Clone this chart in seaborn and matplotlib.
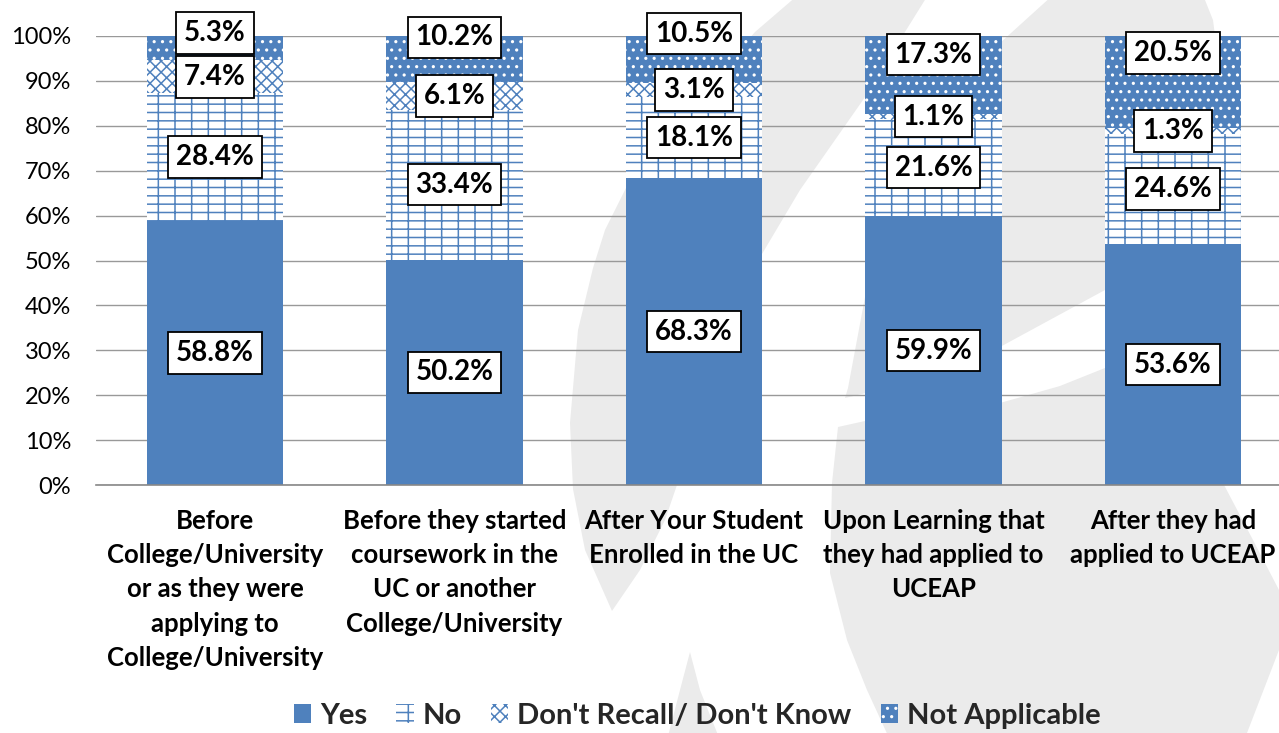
import seaborn as sns
import matplotlib.pyplot as plt
import pandas as pd
import numpy as np
from matplotlib.patches import Polygon, Patch

# chart data (percent of respondents)
categories = [
    'Before\nCollege/University\nor as they were\napplying to\nCollege/University',
    'Before they started\ncoursework in the\nUC or another\nCollege/University',
    'After Your Student\nEnrolled in the UC',
    'Upon Learning that\nthey had applied to\nUCEAP',
    'After they had\napplied to UCEAP',
]
yes = [58.8, 50.2, 68.3, 59.9, 53.6]
no = [28.4, 33.4, 18.1, 21.6, 24.6]
dont_recall = [7.4, 6.1, 3.1, 1.1, 1.3]
not_applicable = [5.3, 10.2, 10.5, 17.3, 20.5]
series_names = ['Yes', 'No', "Don't Recall/ Don't Know", 'Not Applicable']
y_ticks = [0, 10, 20, 30, 40, 50, 60, 70, 80, 90, 100]

# styling
BLUE = '#4F81BD'
WM_GRAY = '#EBEBEB'
series_style = [
    dict(face=BLUE, edge=BLUE, hatch=None),
    dict(face='white', edge=BLUE, hatch='--|'),
    dict(face='white', edge=BLUE, hatch='xxx'),
    dict(face=BLUE, edge='white', hatch='..'),
]
# Excel moved the top labels up a bit so they do not collide
top_label_nudge = [3.4, 4.9, 5.8, 4.6, 6.5]

sns.set_theme(style='white')
plt.rcParams['font.family'] = ['Lato', 'DejaVu Sans']
plt.rcParams['hatch.linewidth'] = 1.1

df = pd.DataFrame({'Timing': categories, 'Yes': yes, 'No': no,
                   "Don't Recall/ Don't Know": dont_recall,
                   'Not Applicable': not_applicable})

fig = plt.figure(figsize=(12.79, 7.33), dpi=100)
fig.patch.set_facecolor('white')

# faint logo watermark behind the chart (pixel coordinates)
wm = fig.add_axes([0, 0, 1, 1], zorder=0)
wm.set_xlim(0, 1279)
wm.set_ylim(733, 0)
wm.axis('off')
watermark_shapes = [
    [(798, -5), (755, 32), (700, 95), (650, 155), (626, 188), (605, 230), (593, 268),
     (578, 330), (570, 423), (573, 489), (585, 550), (612, 611), (640, 570), (665, 520),
     (677, 485), (700, 420), (740, 300), (762, 254), (800, 190), (870, 90), (900, 40),
     (928, -5)],
    [(1053, -5), (1000, 43), (950, 110), (905, 200), (875, 260), (865, 297), (848, 388),
     (845, 398), (900, 385), (1000, 347), (1105, 290), (1160, 245), (1205, 170),
     (1222, 90), (1213, 20), (1203, -5)],
    [(838, 427), (865, 421), (930, 412), (1000, 403), (1060, 386), (1105, 368),
     (1160, 385), (1200, 425), (1223, 483), (1253, 540), (1279, 590), (1292, 620),
     (1279, 650), (1247, 733), (1247, 740), (890, 740), (867, 690), (847, 640),
     (830, 573), (832, 483)],
    [(690, 652), (680, 690), (667, 740), (720, 740), (700, 690)],
]
for shape in watermark_shapes:
    wm.add_patch(Polygon(shape, closed=True, facecolor=WM_GRAY, edgecolor='none'))

ax = fig.add_axes([96 / 1279, 1 - 485 / 733, 1 - 96 / 1279, (485 - 36) / 733], zorder=1)
ax.patch.set_visible(False)

bottom = np.zeros(len(categories))
for name, st in zip(series_names, series_style):
    sns.barplot(data=df, x='Timing', y=name, order=categories, bottom=bottom,
                color=st['face'], saturation=1, width=0.57, errorbar=None, ax=ax)
    for bar in ax.containers[-1]:
        bar.set_facecolor(st['face'])
        bar.set_edgecolor(st['edge'])
        bar.set_linewidth(0)
        if st['hatch']:
            bar.set_hatch(st['hatch'])
    bottom = bottom + df[name].to_numpy()

# value labels in white boxes
bottom = np.zeros(len(categories))
for k, name in enumerate(series_names):
    vals = df[name].to_numpy()
    for i, v in enumerate(vals):
        y = bottom[i] + v / 2
        if k == len(series_names) - 1:
            y += top_label_nudge[i]
        ax.text(i, y, f'{v:.1f}%', ha='center', va='center', fontsize=20,
                fontweight='bold', color='black', zorder=5,
                bbox=dict(boxstyle='square,pad=0.28', facecolor='white',
                          edgecolor='black', linewidth=1.3))
    bottom = bottom + vals

ax.set_ylim(0, 100)
ax.set_xlim(-0.497, 4.443)
ax.set_yticks(y_ticks)
ax.set_yticklabels([f'{t}%' for t in y_ticks])
ax.yaxis.grid(True, color='#999999', linewidth=1.0)
ax.set_axisbelow(True)
ax.set_xlabel('')
ax.set_ylabel('')
for side in ['left', 'right', 'top']:
    ax.spines[side].set_visible(False)
ax.spines['bottom'].set_color('#888888')
ax.spines['bottom'].set_linewidth(1.2)
ax.tick_params(axis='y', length=0, pad=18, labelsize=17, labelcolor='black')
ax.tick_params(axis='x', length=0, pad=17, labelsize=18.5, labelcolor='black')
for lbl in ax.get_xticklabels():
    lbl.set_fontweight('bold')
    lbl.set_linespacing(1.52)

handles = [Patch(facecolor=st['face'], edgecolor=st['edge'], hatch=st['hatch'], linewidth=0)
           for st in series_style]
fig.legend(handles, series_names, loc='center', bbox_to_anchor=(697 / 1279, 1 - 716 / 733),
           ncol=4, frameon=False, prop={'weight': 'bold', 'size': 21},
           handlelength=0.6, handleheight=0.6, handletextpad=0.3, columnspacing=1.0)

fig.savefig('out.png', dpi=100, facecolor='white')
